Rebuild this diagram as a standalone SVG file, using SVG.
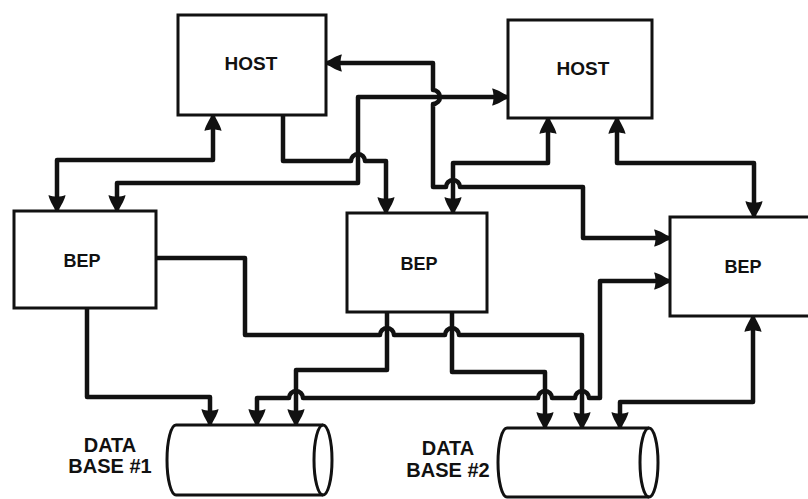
<svg xmlns="http://www.w3.org/2000/svg" width="808" height="499" viewBox="0 0 808 499">
<defs>
<marker id="ah" markerUnits="userSpaceOnUse" markerWidth="20" markerHeight="20" refX="16" refY="10" orient="auto-start-reverse" viewBox="0 0 20 20">
<path d="M0,1.5 C4,2 11,6 16,9 L16,11 C11,14 4,18 0,18.5 C2,14 2,6 0,1.5 Z" fill="#111"/>
</marker>
<style>
.box{fill:#fff;stroke:#111;stroke-width:3}
.ln{fill:none;stroke:#111;stroke-width:4.5;stroke-linejoin:round}
.a2{marker-start:url(#ah);marker-end:url(#ah)}
.a1{marker-end:url(#ah)}
.lbl{font-family:"Liberation Sans",Arial,sans-serif;font-weight:bold;fill:#111;text-anchor:middle}
.cyl{fill:#fff;stroke:none}
.cyle{fill:none;stroke:#111;stroke-width:3}
</style>
</defs>
<rect width="808" height="499" fill="#fff"/>
<g id="connectors">
<path class="ln a2" d="M213,115 V160 H57 V211"/>
<path class="ln a2" d="M117,211 V183 H358 V97 H508"/>
<path class="ln a2" d="M326,63 H433 V90 a7,7 0 0 1 0,14 V187 H446 a7,7 0 0 1 14,0 H583 V238 H670"/>
<path class="ln a1" d="M283,115 V161 H351 a7,7 0 0 1 14,0 H386 V213"/>
<path class="ln a2" d="M548,118 V163 H453 V213"/>
<path class="ln a2" d="M617,118 V163 H754 V217"/>
<path class="ln a1" d="M156,258 H245 V335 H380 a7,7 0 0 1 14,0 H445 a7,7 0 0 1 14,0 H582 V428"/>
<path class="ln a1" d="M87,308 V397 H210 V425"/>
<path class="ln a1" d="M387,312 V370 H296 V425"/>
<path class="ln a1" d="M452,312 V372 H545 V428"/>
<path class="ln a2" d="M257,425 V398 H289 a7,7 0 0 1 14,0 H538 a7,7 0 0 1 14,0 H575 a7,7 0 0 1 14,0 H600 V281 H670"/>
<path class="ln a2" d="M620,428 V402 H753 V316"/>
</g>
<g id="host1">
<rect class="box" x="178" y="15" width="148" height="100"/>
<text class="lbl" x="251" y="70" font-size="19">HOST</text>
</g>
<g id="host2">
<rect class="box" x="508" y="20" width="144" height="98"/>
<text class="lbl" x="583" y="75" font-size="19">HOST</text>
</g>
<g id="bep1">
<rect class="box" x="14" y="211" width="142" height="97"/>
<text class="lbl" x="82" y="267" font-size="18">BEP</text>
</g>
<g id="bep2">
<rect class="box" x="347" y="213" width="140" height="99"/>
<text class="lbl" x="419" y="270" font-size="18">BEP</text>
</g>
<g id="bep3">
<rect class="box" x="670" y="217" width="150" height="99"/>
<text class="lbl" x="743" y="273" font-size="18">BEP</text>
</g>
<g id="db1">
<path class="cyl" d="M176,425 H323 A9,35 0 0 1 323,495 H176 A9,35 0 0 1 176,425 Z"/>
<path class="cyle" d="M176,425 H323 M176,495 H323 M176,425 A9,35 0 0 0 176,495"/>
<ellipse class="cyle" cx="323" cy="460" rx="9" ry="35"/>
<text class="lbl" x="110" y="452" font-size="20">DATA</text>
<text class="lbl" x="110" y="473" font-size="20">BASE #1</text>
</g>
<g id="db2">
<path class="cyl" d="M507,428 H649 A9,34.5 0 0 1 649,497 H507 A9,34.5 0 0 1 507,428 Z"/>
<path class="cyle" d="M507,428 H649 M507,497 H649 M507,428 A9,34.5 0 0 0 507,497"/>
<ellipse class="cyle" cx="649" cy="462.5" rx="9" ry="34.5"/>
<text class="lbl" x="448" y="455" font-size="20">DATA</text>
<text class="lbl" x="448" y="477" font-size="20">BASE #2</text>
</g>
</svg>
